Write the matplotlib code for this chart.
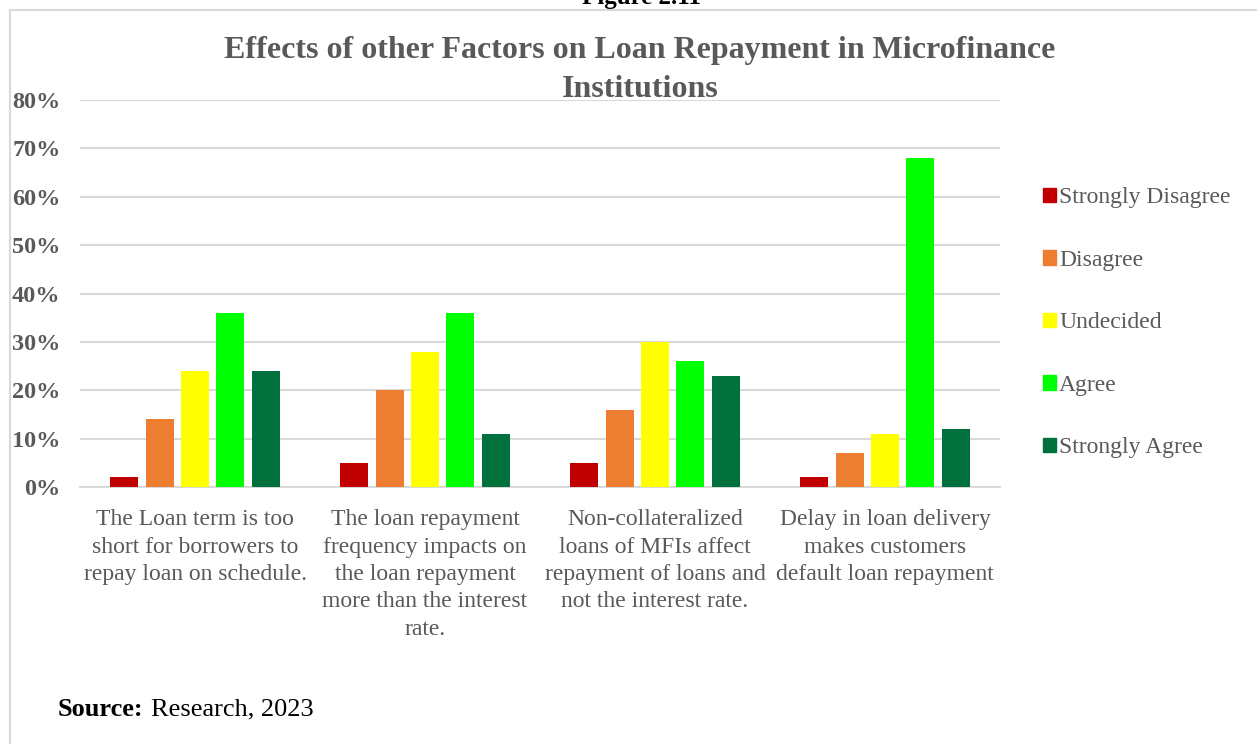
import matplotlib
matplotlib.use("Agg")
import matplotlib.pyplot as plt
import numpy as np
from matplotlib.lines import Line2D

plt.rcParams['font.family'] = ['Liberation Serif', 'DejaVu Serif']

categories = [
    "The Loan term is too\nshort for borrowers to\nrepay loan on schedule.",
    "The loan repayment\nfrequency impacts on\nthe loan repayment\nmore than the interest\nrate.",
    "Non-collateralized\nloans of MFIs affect\nrepayment of loans and\nnot the interest rate.",
    "Delay in loan delivery\nmakes customers\ndefault loan repayment",
]
series_names = ["Strongly Disagree", "Disagree", "Undecided", "Agree", "Strongly Agree"]
strongly_disagree = [2, 5, 5, 2]
disagree = [14, 20, 16, 7]
undecided = [24, 28, 30, 11]
agree = [36, 36, 26, 68]
strongly_agree = [24, 11, 23, 12]
series_values = [strongly_disagree, disagree, undecided, agree, strongly_agree]
colors = ["#C00000", "#ED7D31", "#FFFF00", "#00FF00", "#00703C"]
yticks = [0, 10, 20, 30, 40, 50, 60, 70, 80]

W, H = 1257, 744
fig = plt.figure(figsize=(W / 100, H / 100), dpi=100)
ax = fig.add_axes([80 / W, 1 - 487 / H, 920 / W, 387 / H])

x = np.arange(len(categories))
pitch = 0.154
width = 0.122
for i, (name, vals, c) in enumerate(zip(series_names, series_values, colors)):
    ax.bar(x + (i - 2) * pitch, vals, width=width, color=c, label=name, zorder=3)

ax.set_xlim(-0.5, len(categories) - 0.5)
ax.set_ylim(0, 80)
ax.set_yticks(yticks)
ax.set_yticklabels([f"{v}%" for v in yticks], fontsize=17.5, fontweight='bold', color='#595959')
ax.set_xticks(x)
ax.set_xticklabels(categories, fontsize=17, color='#595959', linespacing=1.4, va='top')
ax.tick_params(axis='both', length=0)
ax.tick_params(axis='y', pad=14)
ax.tick_params(axis='x', pad=16)
ax.grid(axis='y', color='#D9D9D9', linewidth=1.5, zorder=0)
for s in ['top', 'right', 'left']:
    ax.spines[s].set_visible(False)
ax.spines['bottom'].set_color('#D9D9D9')
ax.spines['bottom'].set_linewidth(1.5)

fig.text(640 / W, 1 - 70 / H, "Effects of other Factors on Loan Repayment in Microfinance\nInstitutions",
         ha='center', va='center', fontsize=23, fontweight='bold', color='#595959', linespacing=1.45)

handles = [plt.Rectangle((0, 0), 1, 1, color=c) for c in colors]
leg = fig.legend(handles, series_names, loc='upper left', bbox_to_anchor=(1022 / W, 1 - 166 / H),
                 frameon=False, fontsize=17, labelspacing=1.76, handlelength=0.55, handleheight=0.55,
                 handletextpad=0.12)
for t in leg.get_texts():
    t.set_color('#595959')

fig.text(641 / W, 1 - 4 / H, "Figure 2.11", ha='center', va='baseline', fontsize=18,
         fontweight='bold', color='black')

# Source line: bold label followed by plain text
src = fig.text(58 / W, 1 - 709 / H, "Source:", ha='left', va='center', fontsize=19,
               fontweight='bold', color='black')
fig.canvas.draw()
bb = src.get_window_extent(renderer=fig.canvas.get_renderer())
fig.text((bb.x1 + 7) / W, 1 - 709 / H, "Research, 2023", ha='left', va='center',
         fontsize=19, color='black')

fig.add_artist(Line2D([10 / W, 10 / W], [0, 1 - 10 / H], transform=fig.transFigure,
                      color='#D9D9D9', linewidth=1.5))
fig.add_artist(Line2D([10 / W, 1], [1 - 10 / H, 1 - 10 / H], transform=fig.transFigure,
                      color='#D9D9D9', linewidth=1.5))

fig.savefig("out.png", dpi=100)
